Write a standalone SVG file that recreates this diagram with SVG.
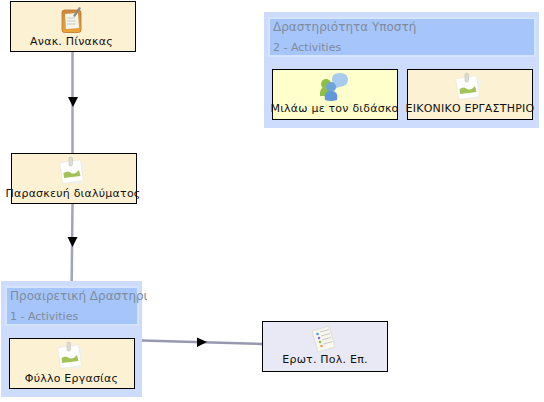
<svg xmlns="http://www.w3.org/2000/svg" width="544" height="402" viewBox="0 0 544 402">
<style>
text{font-family:"DejaVu Sans",sans-serif}
.n{stroke:#000;stroke-width:1}
.y{fill:#fdf1d3}.p{fill:#ffffcc}.v{fill:#e9e9f5}
.l{font-size:11px;letter-spacing:.22px;fill:#111;text-anchor:middle}
.c{fill:#cddcfc}
.h{fill:#a6c5fb;stroke:#d6e3fd;stroke-width:2}
.t{font-size:12px;fill:#808b9c}
.s{font-size:11px;fill:#808b9c}
.e{fill:none;stroke:#a3a3ba;stroke-width:2.500}
.a{fill:#000}
</style>
<defs>
<clipPath id="c1"><rect x="0" y="281" width="147" height="116"/></clipPath>
<linearGradient id="or" x1="0" y1="0" x2="0" y2="1"><stop offset="0" stop-color="#c98a3c"/><stop offset="1" stop-color="#eda63c"/></linearGradient>
<g id="pic">
<rect x="-9" y="-9" width="20" height="21" fill="#f3f1e8" transform="rotate(8 0 0)"/>
<rect x="-12" y="-10" width="21" height="21" fill="#fff" stroke="#e6e4da" stroke-width="0.6" transform="rotate(-8 0 0)"/>
<path d="M-9 7 L-9.500 2 Q-5 -1 -2 2 Q2 4 6 -1 L7.500 5 Z" fill="#a3c257"/>
<rect x="-4" y="-14" width="3.500" height="9" rx="1.700" fill="#dcdcd6" stroke="#b8b8b0" stroke-width="0.5"/>
</g>
</defs>
<g id="edges">
<path class="e" d="M72.500 51.500V153.500"/>
<path class="a" d="M68 97h10l-5 10z"/>
<path class="e" d="M72.500 203.500L71.700 281"/>
<path class="a" d="M67.500 237h10l-5 10z"/>
<path class="e" style="stroke:#9898b0" d="M142 340.500L262.500 344"/>
<path class="a" d="M197 337.500l10 4.500-10 5z"/>
</g>
<g id="node-anak">
<rect class="n y" x="10.500" y="1.500" width="125" height="50"/>
<rect x="62" y="10" width="19" height="22.500" rx="2.500" fill="url(#or)" stroke="#b9762c" stroke-width="0.8"/>
<path d="M65 14l13-1 1 15-13 1z" fill="#f6f5ee"/>
<path d="M73 16l6-9 2 1-6 9z" fill="#8a8a8a"/>
<path d="M67 18h8M67 21h9M67 24h9" stroke="#b5b5ad" stroke-width="0.7"/>
<text class="l" x="71.500" y="44.500">Ανακ. Πίνακας</text>
</g>
<g id="node-paraskevi">
<rect class="n y" x="11.500" y="153.500" width="125" height="50"/>
<use href="#pic" x="73" y="171"/>
<text class="l" x="73" y="196.500">Παρασκευή διαλύματος</text>
</g>
<g id="container-2">
<rect class="c" x="264" y="12" width="275" height="116"/>
<rect class="h" x="269" y="18" width="266" height="38"/>
<text class="t" x="273" y="31">Δραστηριότητα Υποστή</text>
<text class="s" x="273" y="51">2 - Activities</text>
</g>
<g id="node-milao">
<rect class="n p" x="272.500" y="69.500" width="125" height="50"/>
<path d="M334 85l-1 5 6-3q9-1 9-7 0-7-8-7-8 0-8 6 0 4 2 6z" fill="#a9cbed"/>
<circle cx="326" cy="84" r="5" fill="#8fbf45"/>
<path d="M320 96q-1-9 6-9 7 0 7 9z" fill="#8fbf45"/>
<circle cx="331" cy="87" r="5" fill="#6fa3dc"/>
<path d="M325 100q-2-9 6-9 8 0 6 9q-6 2-12 0z" fill="#5f97d8"/>
<text class="l" x="334.500" y="112">Μιλάω με τον διδάσκο</text>
</g>
<g id="node-eikoniko">
<rect class="n y" x="407.500" y="69.500" width="125" height="50"/>
<use href="#pic" x="469" y="87"/>
<text class="l" x="470" y="112">ΕΙΚΟΝΙΚΟ ΕΡΓΑΣΤΗΡΙΟ</text>
</g>
<g id="container-1">
<rect class="c" x="1" y="281" width="141" height="116"/>
<rect class="h" x="6" y="287" width="132" height="38"/>
<text class="t" x="10" y="300" clip-path="url(#c1)">Προαιρετική Δραστηριότητα</text>
<text class="s" x="10" y="320">1 - Activities</text>
</g>
<g id="node-fyllo">
<rect class="n y" x="9.500" y="338.500" width="125" height="50"/>
<use href="#pic" x="71" y="356"/>
<text class="l" x="71.500" y="381.500">Φύλλο Εργασίας</text>
</g>
<g id="node-erot">
<rect class="n v" x="262.500" y="321.500" width="125" height="50"/>
<path d="M312 331l17-5 6 21-17 5z" fill="#f7f7f0" stroke="#d8d8d0" stroke-width="0.7"/>
<circle cx="317.500" cy="334" r="1.300" fill="#4a9be8"/>
<circle cx="319" cy="338" r="1.300" fill="#8a6ee0"/>
<circle cx="320" cy="342" r="1.300" fill="#8fbf45"/>
<circle cx="321.500" cy="346" r="1.300" fill="#f09a4a"/>
<path d="M320 332l9-2.500M321 336l9-2.500M322 340l9-2.500M323.500 344l9-2.500" stroke="#b5b5ad" stroke-width="0.7"/>
<text class="l" x="325" y="363">Ερωτ. Πολ. Επ.</text>
</g>
</svg>
